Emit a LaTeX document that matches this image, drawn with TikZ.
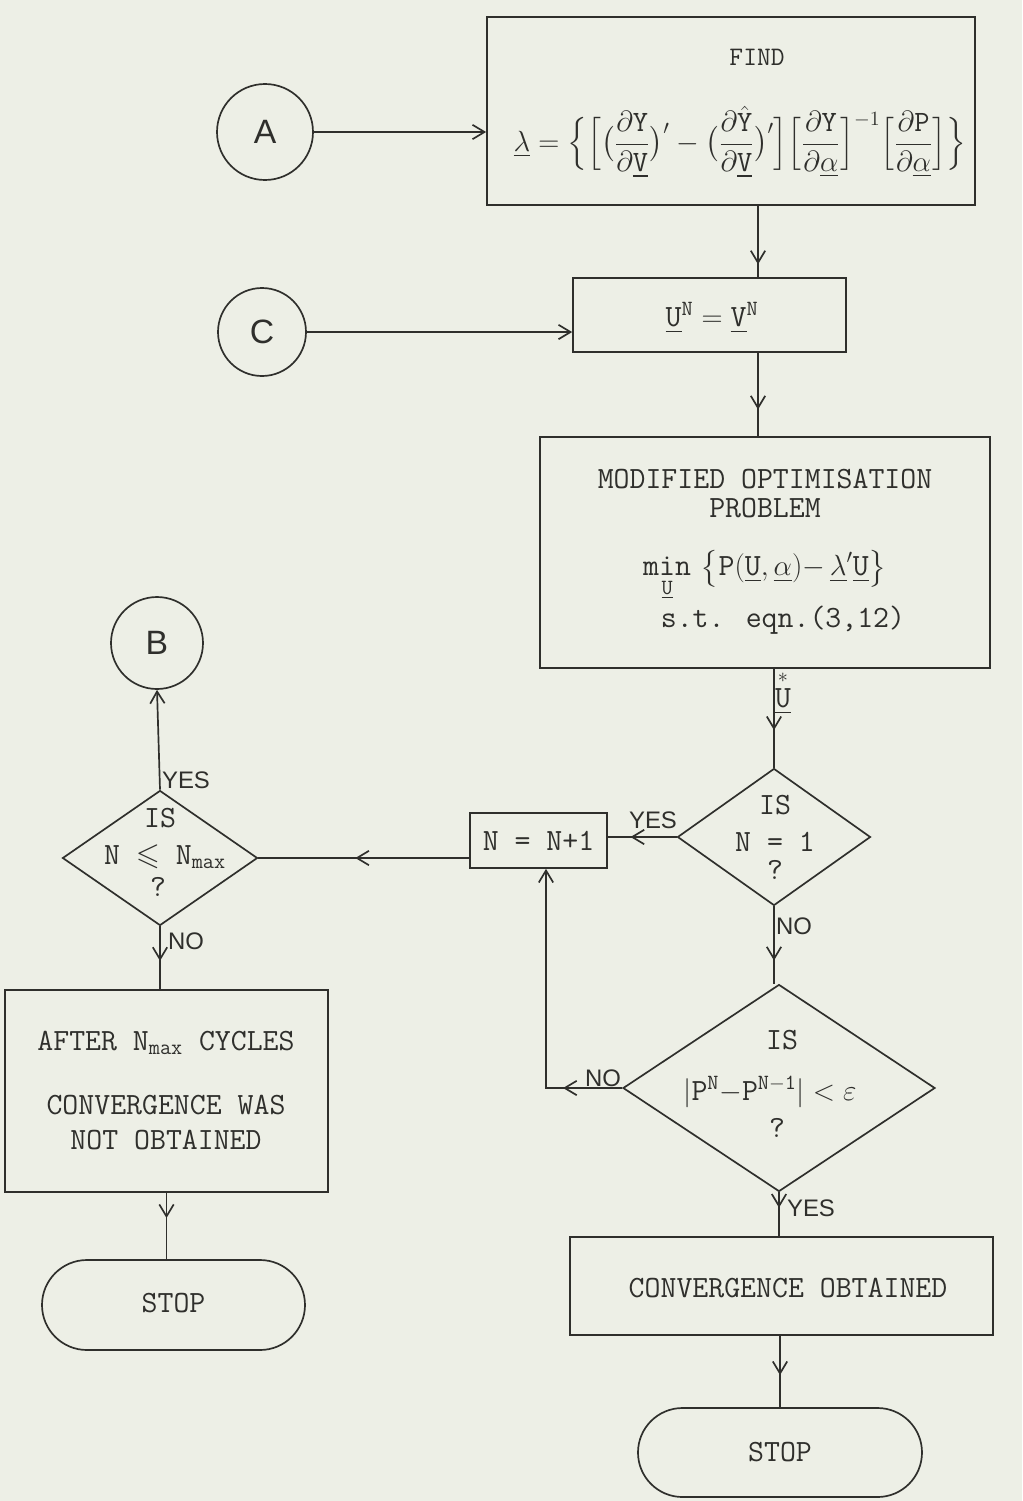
\documentclass[tikz,border=0pt]{standalone}
\usepackage{amsmath,amssymb}
\usepackage{fontspec}
\newfontfamily\lblfont{Liberation Sans}
\usetikzlibrary{shapes.geometric,shapes.misc,arrows.meta,decorations.markings,calc}
\definecolor{paper}{HTML}{EDEFE6}
\definecolor{ink}{HTML}{2F2F2C}
\begin{document}
\begin{tikzpicture}[x=0.25mm,y=-0.25mm,
  box/.style={draw=ink, line width=1.2pt, rectangle, inner sep=0pt},
  term/.style={draw=ink, line width=1.2pt, rounded rectangle, inner sep=0pt},
  dec/.style={draw=ink, line width=1.2pt, diamond, inner sep=0pt},
  conn/.style={draw=ink, line width=1.2pt, circle, inner sep=0pt, text=ink, font=\lblfont\fontsize{24}{28}\selectfont},
  txt/.style={inner sep=0pt, text=ink, font=\ttfamily\fontsize{22}{26}\selectfont},
  lbl/.style={inner sep=0pt, text=ink, font=\lblfont\fontsize{17}{20}\selectfont},
  line/.style={draw=ink, line width=1.2pt},
  arr/.style={line, -{Straight Barb[length=3mm,width=3.6mm]}},
  midarr/.style={line, postaction={decorate}, decoration={markings, mark=at position #1 with {\arrow{Straight Barb[length=3mm,width=3.6mm]}}}}
]
\fill[paper] (0,0) rectangle (1022,1501);
\useasboundingbox (0,0) rectangle (1022,1501);

% column coordinate
\coordinate (colA) at (758,0);

% ---- boxes
\node[box, minimum width=122mm, minimum height=47mm] (find) at (731,111) {};
\node[txt, font=\ttfamily\fontsize{19}{22}\selectfont] (findt) at (757,57) {FIND};
\node[txt, font=\ttfamily\fontsize{21}{24}\selectfont] (findf) at (740,142) {$\displaystyle \underline{\lambda}=\Big\{\Big[\big(\frac{\partial\mathtt{Y}}{\partial\underline{\mathtt{V}}}\big)' - \big(\frac{\partial\hat{\mathtt{Y}}}{\partial\underline{\mathtt{V}}}\big)'\Big]\Big[\frac{\partial\mathtt{Y}}{\partial\underline{\alpha}}\Big]^{-1}\Big[\frac{\partial\mathtt{P}}{\partial\underline{\alpha}}\Big]\Big\}$};

\node[box, minimum width=68.25mm, minimum height=18.5mm] (ubox) at (709.5,315) {};
\node[txt] (ut) at (712,318) {$\underline{\mathtt{U}}^{\mathtt{N}} = \underline{\mathtt{V}}^{\mathtt{N}}$};

\node[box, minimum width=112.5mm, minimum height=57.75mm] (mod) at (765,552.5) {};
\node[txt] (mod1) at (765,479) {MODIFIED OPTIMISATION};
\node[txt] (mod2) at (765,508) {PROBLEM};
\node[txt] (mod3) at (765,576) {$\mathop{\mathtt{min}}\limits_{\underline{\mathtt{U}}}\,\big\{\mathtt{P(}\underline{\mathtt{U}},\underline{\alpha}\mathtt{)-}\,\underline{\lambda}'\underline{\mathtt{U}}\big\}$};
\node[txt] (mod4) at (783,620) {s.t. eqn.(3,12)};

\node[box, minimum width=34.25mm, minimum height=13.75mm] (nbox) at (538.5,840.5) {};
\node[txt] (nt) at (538.5,841) {N = N+1};

\node[box, minimum width=80.75mm, minimum height=50.5mm] (lbox) at (166.5,1091) {};
\node[txt] (l1) at (166,1043) {AFTER N$_{\mathtt{max}}$ CYCLES};
\node[txt] (l2) at (166,1105) {CONVERGENCE WAS};
\node[txt] (l3) at (166,1140) {NOT OBTAINED};

\node[box, minimum width=105.75mm, minimum height=24.5mm] (conv) at (781.5,1286) {};
\node[txt] (ct) at (788,1288) {CONVERGENCE OBTAINED};

\node[term, minimum width=65.75mm, minimum height=22.5mm] (stopL) at (173.5,1305) {};
\node[txt] (sl) at (173.5,1303) {STOP};
\node[term, minimum width=71mm, minimum height=22.25mm] (stopR) at (780,1452.5) {};
\node[txt] (sr) at (780,1452) {STOP};

% ---- decisions
\node[dec, minimum width=48.25mm, minimum height=34.25mm] (d1) at (774,837) {};
\node[txt] (d1a) at (775,805) {IS};
\node[txt] (d1b) at (775,842) {N = 1};
\node[txt] (d1c) at (775,870) {?};

\node[dec, minimum width=48.75mm, minimum height=33.75mm] (d2) at (160,858) {};
\node[txt] (d2a) at (160,818) {IS};
\node[txt] (d2b) at (165,857) {N $\leqslant$ N$_{\mathtt{max}}$};
\node[txt] (d2c) at (158,887) {?};

\node[dec, minimum width=78mm, minimum height=51.75mm] (d3) at (779,1088) {};
\node[txt] (d3a) at (782,1040) {IS};
\node[txt] (d3b) at (770,1092) {$|\mathtt{P}^{\mathtt{N}}\mathtt{-}\mathtt{P}^{\mathtt{N-1}}| < \varepsilon$};
\node[txt] (d3c) at (777,1128) {?};

% ---- connectors (circles)
\node[conn, minimum size=24mm] (A) at (265,132) {A};
\node[conn, minimum size=22mm] (C) at (262,332) {C};
\node[conn, minimum size=23mm] (B) at (157,643) {B};

% ---- connections
\draw[arr] (A.east) -- (A.east -| find.west);
\draw[arr] (C.east) -- (C.east -| ubox.west);
\draw[midarr=0.82] (find.south -| colA) -- (ubox.north -| colA);
\draw[midarr=0.68] (ubox.south -| colA) -- (mod.north -| colA);
\draw[midarr=0.62] (mod.south -| d1.north) -- (d1.north);
\node[txt] (ustar) at (783,692) {$\overset{*}{\underline{\mathtt{U}}}$};

\draw[midarr=0.67] (d1.west) -- (d1.west -| nbox.east);
\node[lbl] (yes1) at (653,820) {YES};
\draw[midarr=0.54] (d2.east -| nbox.west) -- (d2.east);

\draw[arr] (d2.north) -- (B.south);
\node[lbl] (yes2) at (186,780) {YES};
\draw[midarr=0.55] (d2.south) -- (d2.south |- lbox.north);
\node[lbl] (no2) at (186,941) {NO};
\draw[midarr=0.38] (lbox.south) -- (lbox.south |- stopL.north);

\draw[midarr=0.7] (d1.south) -- (d1.south |- d3.north);
\node[lbl] (no1) at (794,926) {NO};

\coordinate (corner) at (546,0);
\draw[midarr=0.2, -{Straight Barb[length=3mm,width=3.6mm]}] (d3.west) -- (d3.west -| corner) -- (nbox.south -| corner);
\node[lbl] (no3) at (603,1078) {NO};

\draw[midarr=0.35] (d3.south) -- (d3.south |- conv.north);
\node[lbl] (yes3) at (811,1208) {YES};
\draw[midarr=0.55] (conv.south -| stopR.north) -- (stopR.north);
\end{tikzpicture}
\end{document}
